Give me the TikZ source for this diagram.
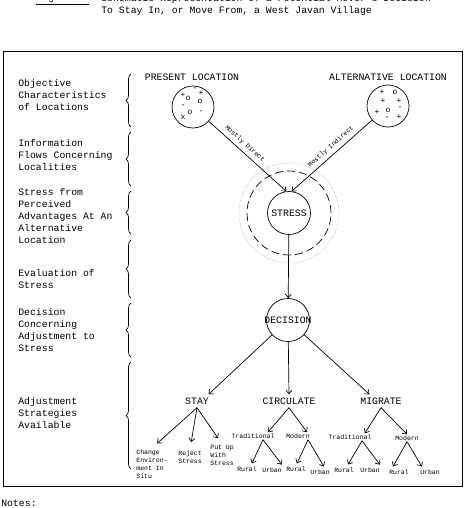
\documentclass[tikz,border=0pt]{standalone}
\usepackage{fontspec}
\setmainfont{Liberation Mono}
\usepackage{tikz}
\usetikzlibrary{arrows.meta,decorations.pathreplacing,calc}

\tikzset{
  tiny/.style={font=\fontsize{6.5}{8}\selectfont, inner sep=1pt},
  sign/.style={font=\fontsize{8}{8}\selectfont, inner sep=0pt},
  rowlbl/.style={anchor=west, align=left, inner sep=0pt},
  place/.style={circle, draw, minimum size=42pt, inner sep=0pt},
  hub/.style={circle, draw, minimum size=43pt, inner sep=0pt},
  level/.style={inner sep=3pt},
  brc/.style={decorate, decoration={brace, amplitude=5pt}},
}

\begin{document}
\begin{tikzpicture}[x=1pt, y=-1pt, line width=0.7pt,
    every node/.style={font=\fontsize{9.8}{12}\selectfont},
    >={Straight Barb[length=3.5pt, width=6pt]}]
	\useasboundingbox (0,0) rectangle (470,508);
	% title, cut off at the top of the page
	\node[anchor=west, inner sep=0pt] (fig) at (36,-1) {\underline{Figure 1.}};
	\node[anchor=west, inner sep=0pt] (title) at (101,-1) {Schematic Representation of a Potential Mover's Decision};
	\node[anchor=west, inner sep=0pt] (title2) at (101,11) {To Stay In, or Move From, a West Javan Village};
	\draw[line width=1pt] (3,52) rectangle (462,486);
	% row labels and braces
	\node[rowlbl] (objective) at (18,95) {Objective\\Characteristics\\of Locations};
	\node[rowlbl] (info) at (18,155) {Information\\Flows Concerning\\Localities};
	\node[rowlbl] (perceived) at (18,216) {Stress from\\Perceived\\Advantages At An\\Alternative\\Location};
	\node[rowlbl] (evaluation) at (18,279) {Evaluation of\\Stress};
	\node[rowlbl] (concerning) at (18,330) {Decision\\Concerning\\Adjustment to\\Stress};
	\node[rowlbl] (strategies) at (18,413) {Adjustment\\Strategies\\Available};
	\draw[brc] (131,127) -- (131,74);
	\draw[brc] (131,186) -- (131,132);
	\draw[brc] (131,234) -- (131,191);
	\draw[brc] (131,298) -- (131,240);
	\draw[brc] (131,357) -- (131,303);
	\draw[brc] (131,469) -- (131,362);
	% locations
	\node (presenthead) at (192,77) {PRESENT LOCATION};
	\node (althead) at (388,77) {ALTERNATIVE LOCATION};
	\node[place] (present) at (193,107) {};
	\node[place] (alternative) at (388,106) {};
	\node[sign] at (183,95) {+}; \node[sign] at (188,98) {o}; \node[sign] at (195,89) {-};
	\node[sign] at (201,93) {+}; \node[sign] at (200,101) {o}; \node[sign] at (183,106) {-};
	\node[sign] at (190,112) {o}; \node[sign] at (183,117) {x}; \node[sign] at (201,112) {-};
	\node[sign] at (382,92) {+}; \node[sign] at (395,92) {o}; \node[sign] at (383,101) {+};
	\node[sign] at (399,101) {+}; \node[sign] at (377,112) {+}; \node[sign] at (388,110) {o};
	\node[sign] at (400,108) {-}; \node[sign] at (387,118) {-}; \node[sign] at (399,117) {+};
	% stress
	\node[hub] (stress) at (289,213) {STRESS};
	\draw[dash pattern=on 8pt off 4pt] (stress.center) circle (42pt);
	\draw[densely dotted, line width=0.4pt, gray] (stress.center) circle (50pt);
	\draw[->] (present) -- (stress.97) node[tiny, pos=0.4, sloped, above=3pt] {Mostly Direct};
	\draw[->] (alternative) -- (stress.83) node[tiny, pos=0.45, sloped, above=3pt] {Mostly Indirect};
	% decision
	\node[hub] (decision) at (288,320) {\makebox[30pt]{DECISION}};
	\draw[->] (stress) -- (decision);
	\node[level] (stay) at (197,401) {STAY};
	\node[level] (circulate) at (289,401) {CIRCULATE};
	\node[level] (migrate) at (381,401) {MIGRATE};
	\draw[->] (decision) -- (stay.30);
	\draw[->] (decision) -- (circulate.north);
	\draw[->] (decision) -- (migrate.150);
	% stay
	\node[tiny, align=left, anchor=north west] (change) at (135,448) {Change\\Environ-\\ment In\\Situ};
	\node[tiny, align=left, anchor=north west] (reject) at (177,449) {Reject\\Stress};
	\node[tiny, align=left, anchor=north west] (putup) at (209,444) {Put Up\\With\\Stress};
	\draw[->, shorten >=7pt] (stay.south) -- (change.north);
	\draw[->, shorten >=7pt] (stay.south) -- (reject.north);
	\draw[->, shorten >=7pt] (stay.south) -- (putup.north);
	% circulate and migrate
	\node[tiny] (ctrad) at (253,436) {Traditional};
	\node[tiny] (cmod) at (298,436) {Modern};
	\node[tiny] (mtrad) at (350,437) {Traditional};
	\node[tiny] (mmod) at (407,438) {Modern};
	\draw[->] (circulate.south) -- ([xshift=-8pt]ctrad.north east);
	\draw[->] (circulate.south) -- ([xshift=-4pt]cmod.north east);
	\draw[->] (migrate.south) -- ([xshift=-8pt]mtrad.north east);
	\draw[->] (migrate.south) -- (mmod.north);
	\node[tiny] (cr1) at (247,469) {Rural};
	\node[tiny] (cu1) at (272,470) {Urban};
	\node[tiny] (cr2) at (296,469) {Rural};
	\node[tiny] (cu2) at (320,472) {Urban};
	\node[tiny] (mr1) at (344,470) {Rural};
	\node[tiny] (mu1) at (370,470) {Urban};
	\node[tiny] (mr2) at (399,472) {Rural};
	\node[tiny] (mu2) at (430,472) {Urban};
	\draw[->, shorten >=2pt] ([xshift=10pt]ctrad.south) -- ([xshift=4pt]cr1.north);
	\draw[->, shorten >=2pt] ([xshift=10pt]ctrad.south) -- (cu1.north east);
	\draw[->, shorten >=2pt] ([xshift=10pt]cmod.south) -- (cr2.north);
	\draw[->, shorten >=2pt] ([xshift=10pt]cmod.south) -- ([xshift=5pt]cu2.north);
	\draw[->, shorten >=2pt] ([xshift=12pt]mtrad.south) -- ([xshift=3pt]mr1.north);
	\draw[->, shorten >=2pt] ([xshift=12pt]mtrad.south) -- (mu1.north east);
	\draw[->, shorten >=2pt] (mmod.south) -- ([xshift=-7pt]mr2.north);
	\draw[->, shorten >=2pt] (mmod.south) -- ([xshift=-7pt]mu2.north);
	\node[anchor=west, inner sep=0pt] (notes) at (1,503) {Notes:};
\end{tikzpicture}
\end{document}
